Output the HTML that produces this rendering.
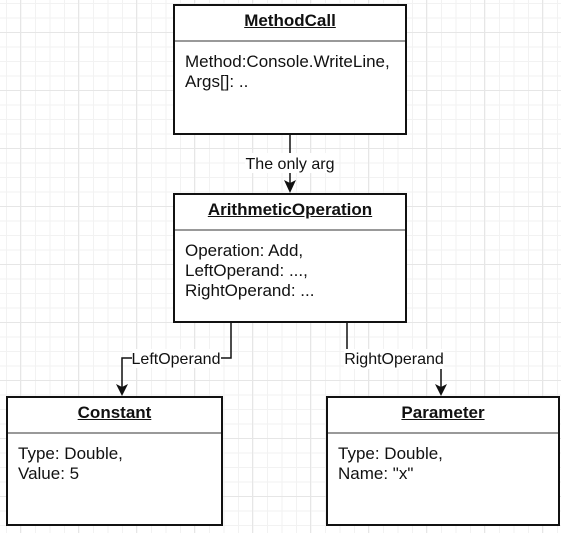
<!DOCTYPE html>
<html><head><style>
body{margin:0;width:561px;height:533px;overflow:hidden;background:#fff;font-family:"Liberation Sans",sans-serif;}
.grid{position:absolute;left:0;top:0;width:561px;height:533px;
background-image:linear-gradient(#e6e6e6 1px,transparent 1px),linear-gradient(90deg,#e6e6e6 1px,transparent 1px),linear-gradient(#f2f2f2 1px,transparent 1px),linear-gradient(90deg,#f2f2f2 1px,transparent 1px);
background-size:58px 58px,58px 58px,14.5px 14.5px,14.5px 14.5px;background-position:0 32px,20px 0,0 3px,6px 0;}
.box{position:absolute;border:2px solid #111;background:#fff;box-sizing:border-box;}
.hd{height:34px;border-bottom:2px solid #999;text-align:center;font-weight:bold;text-decoration:underline;font-size:17px;line-height:30px;color:#111;}
.bd{padding:10px 0 0 10px;font-size:17px;line-height:20px;color:#111;}
</style></head><body>
<div class="grid"></div>
<svg width="561" height="533" style="position:absolute;left:0;top:0">
<g stroke="#111" stroke-width="1.5" fill="none">
<path d="M290 134V183"/>
<path d="M231 322V358H122V388"/>
<path d="M347 322V358H441V388"/>
</g>
<g fill="#111">
<path d="M284 180L290 193L296 180L290 183Z"/>
<path d="M116 384L122 396L128 384L122 387Z"/>
<path d="M435 384L441 396L447 384L441 387Z"/>
</g>
<rect x="245" y="153" width="90" height="20" fill="#fff"/>
<rect x="132" y="349" width="89" height="19" fill="#fff"/>
<rect x="344" y="349" width="100" height="20" fill="#fff"/>
<g font-family="Liberation Sans,sans-serif" font-size="16" fill="#111" text-anchor="middle">
<text x="290" y="169">The only arg</text>
<text x="176" y="364">LeftOperand</text>
<text x="394" y="364">RightOperand</text>
</g>
</svg>
<div class="box" style="left:173px;top:4px;width:234px;height:131px"><div class="hd">MethodCall</div><div class="bd">Method:Console.WriteLine,<br>Args[]: ..</div></div>
<div class="box" style="left:173px;top:193px;width:234px;height:130px"><div class="hd">ArithmeticOperation</div><div class="bd">Operation: Add,<br>LeftOperand: ...,<br>RightOperand: ...</div></div>
<div class="box" style="left:6px;top:396px;width:217px;height:130px"><div class="hd">Constant</div><div class="bd">Type: Double,<br>Value: 5</div></div>
<div class="box" style="left:326px;top:396px;width:234px;height:130px"><div class="hd">Parameter</div><div class="bd">Type: Double,<br>Name: "x"</div></div>
</body></html>
